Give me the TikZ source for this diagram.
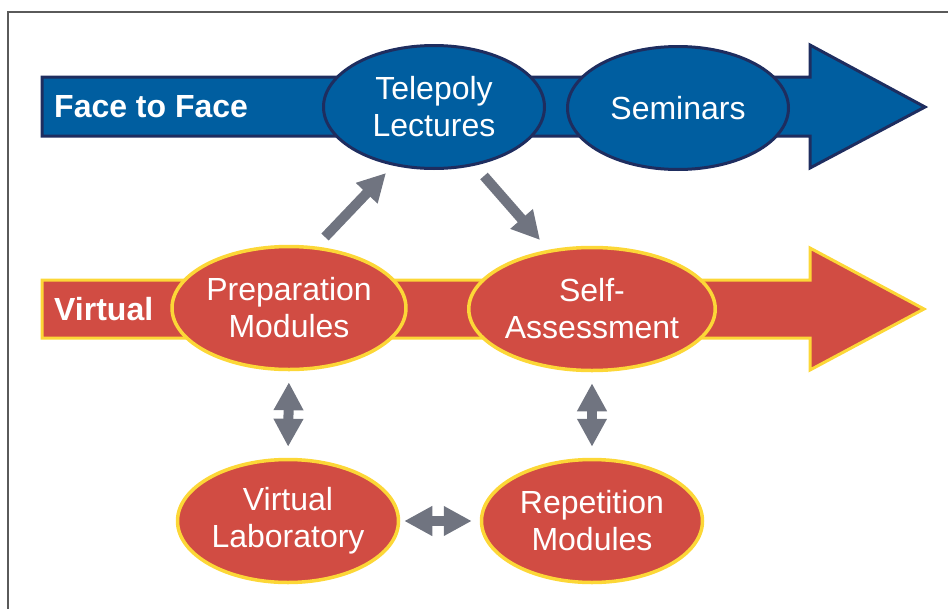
\documentclass[tikz,border=0pt]{standalone}
\usepackage{fontspec}
\setmainfont{Liberation Sans}
\usetikzlibrary{shapes.geometric,arrows.meta}
\definecolor{fblue}{HTML}{005EA0}
\definecolor{navy}{HTML}{1E2D5F}
\definecolor{fred}{HTML}{D14C43}
\definecolor{fyellow}{HTML}{FCD737}
\definecolor{agray}{HTML}{707480}
\definecolor{frame}{HTML}{5A5A5A}
\tikzset{
  bigarrowblue/.style={fill=fblue,draw=navy,line width=3pt,line join=miter},
  bigarrowred/.style={fill=fred,draw=fyellow,line width=3pt,line join=miter},
  ellbase/.style={ellipse,minimum width=221pt,minimum height=123pt,inner sep=0pt,
    text=white,align=center,font=\fontsize{32}{37}\selectfont},
  blueell/.style={ellbase,fill=fblue,draw=navy,line width=3pt},
  redell/.style={ellbase,fill=fred,draw=fyellow,line width=3.5pt},
  rowlabel/.style={text=white,font=\fontsize{32}{37}\selectfont\bfseries,inner sep=0pt},
  onearrow/.style={draw=agray,line width=10pt,-{Triangle[width=28pt,length=28pt]}},
  dblarrow/.style={draw=agray,line width=10pt,{Triangle[width=28pt,length=28pt]}-{Triangle[width=28pt,length=28pt]}}
}
\begin{document}
\begin{tikzpicture}[x=1pt,y=-1pt]
\useasboundingbox (0,0) rectangle (948,608);
\begin{scope}
\clip (0,0) rectangle (948,608);
\draw[frame,line width=1.5pt] (8,12) rectangle (970,630);
\end{scope}
% big arrows
\draw[bigarrowblue] (42,77) -- (810,77) -- (810,45) -- (925,107) -- (810,168) -- (810,136) -- (42,136) -- cycle;
\draw[bigarrowred] (42,280) -- (810,280) -- (810,248) -- (924,309) -- (810,370) -- (810,338) -- (42,338) -- cycle;
\node[rowlabel,anchor=west] (f2f) at (54,107) {Face to Face};
\node[rowlabel,anchor=west] (virt) at (54,309) {Virtual};
% ellipses
\node[blueell] (tele) at (434,107) {Telepoly\\Lectures};
\node[blueell] (sem) at (678,108) {Seminars};
\node[redell] (prep) at (289,308) {Preparation\\Modules};
\node[redell] (self) at (592,309) {Self-\\Assessment};
\node[redell] (vlab) at (288,521) {Virtual\\Laboratory};
\node[redell] (rep) at (592,521) {Repetition\\Modules};
% connectors
\draw[onearrow] ([shift={(36,-71)}]prep.center) -- ([shift={(-48,66)}]tele.center);
\draw[onearrow] ([shift={(50,69)}]tele.center) -- ([shift={(-52,-69)}]self.center);
\draw[dblarrow,shorten <=11pt,shorten >=11pt] (prep.south) -- (vlab.north);
\draw[dblarrow,shorten <=11pt,shorten >=11pt] (self.south) -- (rep.north);
\draw[dblarrow,shorten <=4pt,shorten >=8pt] (vlab.east) -- (rep.west);
\end{tikzpicture}
\end{document}
